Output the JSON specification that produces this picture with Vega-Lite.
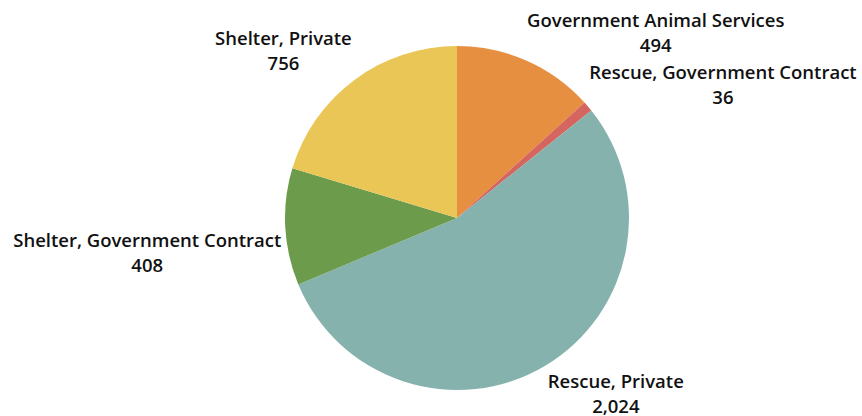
{
  "$schema": "https://vega.github.io/schema/vega-lite/v6.json",
  "width": 806,
  "height": 398,
  "autosize": {"type": "none"},
  "padding": {"left": 54, "top": 19, "right": 0, "bottom": 0},
  "background": "white",
  "view": {"stroke": null},
  "data": {
    "values": [
      {"category": "Government Animal Services", "count": 494, "order": 1},
      {"category": "Rescue, Government Contract", "count": 36, "order": 2},
      {"category": "Rescue, Private", "count": 2024, "order": 3},
      {"category": "Shelter, Government Contract", "count": 408, "order": 4},
      {"category": "Shelter, Private", "count": 756, "order": 5}
    ]
  },
  "transform": [
    {"calculate": "datum.category + '\\n' + format(datum.count, ',')", "as": "label"}
  ],
  "encoding": {
    "theta": {"field": "count", "type": "quantitative", "stack": true},
    "order": {"field": "order", "type": "quantitative"}
  },
  "layer": [
    {
      "mark": {"type": "arc", "outerRadius": 172},
      "encoding": {
        "color": {
          "field": "category",
          "type": "nominal",
          "legend": null,
          "scale": {
            "domain": ["Government Animal Services", "Rescue, Government Contract", "Rescue, Private", "Shelter, Government Contract", "Shelter, Private"],
            "range": ["#e68f40", "#d5655f", "#86b2ae", "#6c9b4c", "#e9c655"]
          }
        }
      }
    },
    {
      "mark": {"type": "text", "radius": 172, "dx": 129, "dy": -40, "font": "Open Sans", "fontWeight": 600, "fontSize": 18.5, "lineHeight": 25, "lineBreak": "\n", "baseline": "middle", "color": "#111"},
      "encoding": {"text": {"condition": {"test": "datum.order == 1", "field": "label"}, "value": ""}}
    },
    {
      "mark": {"type": "text", "radius": 172, "dx": 135, "dy": -33, "font": "Open Sans", "fontWeight": 600, "fontSize": 18.5, "lineHeight": 25, "lineBreak": "\n", "baseline": "middle", "color": "#111"},
      "encoding": {"text": {"condition": {"test": "datum.order == 2", "field": "label"}, "value": ""}}
    },
    {
      "mark": {"type": "text", "radius": 172, "dx": 71, "dy": 16, "font": "Open Sans", "fontWeight": 600, "fontSize": 18.5, "lineHeight": 25, "lineBreak": "\n", "baseline": "middle", "color": "#111"},
      "encoding": {"text": {"condition": {"test": "datum.order == 3", "field": "label"}, "value": ""}}
    },
    {
      "mark": {"type": "text", "radius": 172, "dx": -138, "dy": 14, "font": "Open Sans", "fontWeight": 600, "fontSize": 18.5, "lineHeight": 25, "lineBreak": "\n", "baseline": "middle", "color": "#111"},
      "encoding": {"text": {"condition": {"test": "datum.order == 4", "field": "label"}, "value": ""}}
    },
    {
      "mark": {"type": "text", "radius": 172, "dx": -71, "dy": -41, "font": "Open Sans", "fontWeight": 600, "fontSize": 18.5, "lineHeight": 25, "lineBreak": "\n", "baseline": "middle", "color": "#111"},
      "encoding": {"text": {"condition": {"test": "datum.order == 5", "field": "label"}, "value": ""}}
    }
  ]
}
